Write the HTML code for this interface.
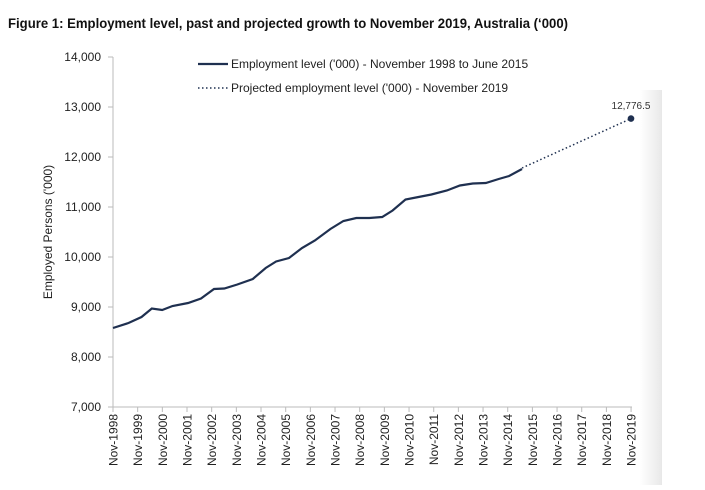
<!DOCTYPE html><html><head><style>body{margin:0;background:#fff;width:705px;height:485px;overflow:hidden;font-family:"Liberation Sans",sans-serif}</style></head><body>
<svg width="705" height="485" xmlns="http://www.w3.org/2000/svg" font-family="Liberation Sans, sans-serif">
<defs><linearGradient id="g" x1="0" x2="1"><stop offset="0" stop-color="#fff"/><stop offset="1" stop-color="#e8e8e8"/></linearGradient></defs>
<rect x="640" y="90" width="22" height="395" fill="url(#g)"/>
<text x="8" y="28" font-size="13.5" font-weight="bold" fill="#111" textLength="560" lengthAdjust="spacingAndGlyphs">Figure 1: Employment level, past and projected growth to November 2019, Australia (‘000)</text>
<g font-size="12" fill="#222" text-anchor="end">
<text x="101" y="61">14,000</text><text x="101" y="111">13,000</text><text x="101" y="161">12,000</text><text x="101" y="211">11,000</text><text x="101" y="261">10,000</text><text x="101" y="311">9,000</text><text x="101" y="361">8,000</text><text x="101" y="411">7,000</text>
</g>
<g stroke="#bbb" stroke-width="1">
<line x1="113" y1="57" x2="113" y2="407"/>
<line x1="113" y1="407" x2="632" y2="407"/>
<line x1="108" y1="57" x2="113" y2="57"/><line x1="108" y1="107" x2="113" y2="107"/><line x1="108" y1="157" x2="113" y2="157"/><line x1="108" y1="207" x2="113" y2="207"/><line x1="108" y1="257" x2="113" y2="257"/><line x1="108" y1="307" x2="113" y2="307"/><line x1="108" y1="357" x2="113" y2="357"/><line x1="108" y1="407" x2="113" y2="407"/>
</g>
<g id="xt"></g>
<text transform="translate(52,232) rotate(-90)" font-size="12" fill="#222" text-anchor="middle">Employed Persons ('000)</text>
<path id="ln" fill="none" stroke="#1f3050" stroke-width="2.2"/>
<line x1="522" y1="168" x2="631" y2="118.6" stroke="#1f3050" stroke-width="1.5" stroke-dasharray="1.5,2.5"/>
<circle cx="631" cy="118.6" r="3.3" fill="#1f3050"/>
<text x="631" y="109" font-size="10" fill="#333" text-anchor="middle">12,776.5</text>
<line x1="198" y1="64" x2="228" y2="64" stroke="#1f3050" stroke-width="2.2"/>
<text x="231" y="68" font-size="12" fill="#222">Employment level ('000) - November 1998 to June 2015</text>
<line x1="198" y1="88" x2="228" y2="88" stroke="#1f3050" stroke-width="1.5" stroke-dasharray="1.5,2.5"/>
<text x="231" y="92" font-size="12" fill="#222">Projected employment level ('000) - November 2019</text>
</svg>
<script>
var xt=document.getElementById('xt'),s='';
for(var i=0;i<=21;i++){var x=113+i*24.67;
s+='<line x1="'+x+'" y1="407" x2="'+x+'" y2="412" stroke="#bbb"/>';
s+='<text transform="translate('+(x+4.5)+',414) rotate(-90)" font-size="12" fill="#222" text-anchor="end">Nov-'+(1998+i)+'</text>';}
xt.innerHTML=s;
var d=[[1998.9,8580],[1999.5,8680],[2000.0,8800],[2000.4,8970],[2000.8,8940],[2001.2,9020],[2001.8,9080],[2002.3,9170],[2002.8,9360],[2003.2,9370],[2003.7,9450],[2004.3,9560],[2004.8,9780],[2005.2,9910],[2005.7,9980],[2006.2,10180],[2006.7,10330],[2007.3,10560],[2007.8,10720],[2008.3,10780],[2008.8,10780],[2009.3,10800],[2009.7,10930],[2010.2,11150],[2010.7,11200],[2011.2,11250],[2011.8,11330],[2012.3,11430],[2012.8,11470],[2013.3,11480],[2013.8,11560],[2014.2,11620],[2014.7,11760]];
var p='';d.forEach(function(a,k){var x=113+(a[0]-1998.9)/(2014.7-1998.9)*409,y=407-(a[1]-7000)*0.05;p+=(k?'L':'M')+x.toFixed(1)+','+y.toFixed(1);});
document.getElementById('ln').setAttribute('d',p);
</script>
</body></html>
